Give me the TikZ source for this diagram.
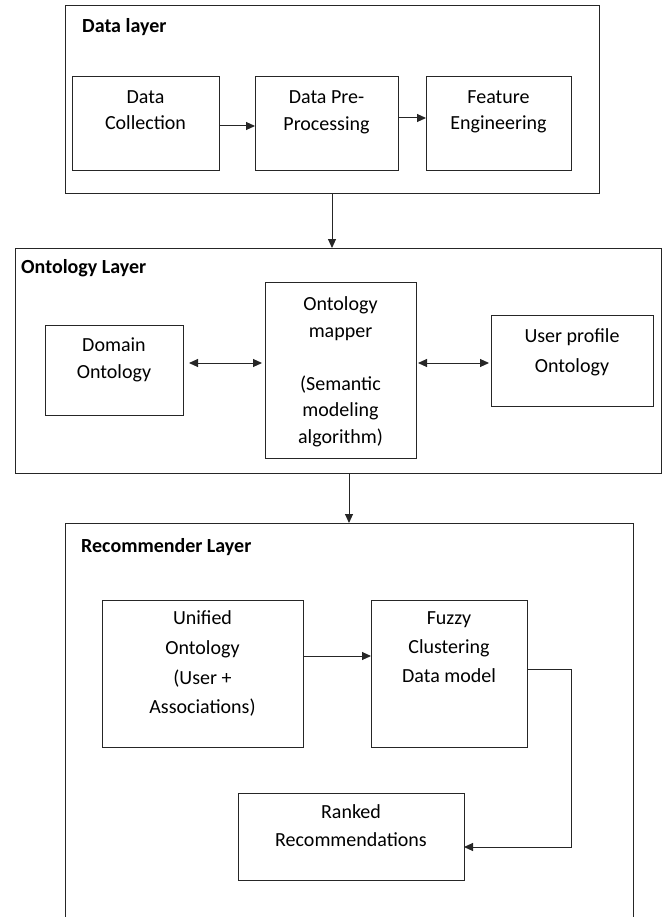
\documentclass[tikz,border=0pt]{standalone}
\usepackage{fontspec}
\setmainfont{Carlito}
\usetikzlibrary{arrows.meta,calc}
\newcommand{\fsz}[1]{\fontsize{20}{#1}\selectfont}
\newcommand{\tstrut}{\rule{0pt}{18pt}}
\begin{document}
\begin{tikzpicture}[x=1pt,y=-1pt,
  line color/.style={draw=black!85},
  box/.style={draw=black!85, line width=1pt, inner sep=0pt, outer sep=0pt},
  lab/.style={anchor=north, align=center, inner sep=0pt, text=black},
  ttl/.style={anchor=base west, inner sep=0pt, font=\fontsize{20}{24}\selectfont\bfseries},
  arr/.style={draw=black!85, line width=1pt, -{Triangle[length=9pt,width=8pt]}},
  darr/.style={draw=black!85, line width=1pt, {Triangle[length=9pt,width=8pt]}-{Triangle[length=9pt,width=8pt]}}
]
\useasboundingbox (0,0) rectangle (665,917);

% ---------- Data layer ----------
\node[box, minimum width=534pt, minimum height=188pt] (datal) at (332,100) {};
\node[ttl] (datat) at (82,33) {Data layer};
\node[box, minimum width=147pt, minimum height=94pt,
  label={[lab, yshift=-8.5pt, font=\fsz{26}]north:{\tstrut Data\\Collection}}] (dc) at (145.5,124) {};
\node[box, minimum width=143pt, minimum height=94pt,
  label={[lab, yshift=-8pt, font=\fsz{27}]north:{\tstrut Data Pre-\\Processing}}] (dpp) at (326.5,124) {};
\node[box, minimum width=145pt, minimum height=94pt,
  label={[lab, yshift=-8.5pt, font=\fsz{26}]north:{\tstrut Feature\\Engineering}}] (fe) at (498.5,124) {};

\draw[arr] (dc.east |- 0,126) -- (dpp.west |- 0,126);
\draw[arr] (dpp.east |- 0,118) -- (fe.west |- 0,118);

% ---------- Ontology layer ----------
\node[box, minimum width=646pt, minimum height=225pt] (ontol) at (338,360.5) {};
\node[ttl] (ontot) at (21,273) {Ontology Layer};
\node[box, minimum width=138pt, minimum height=90pt,
  label={[lab, yshift=-8.5pt, font=\fsz{27}]north:{\tstrut Domain\\Ontology}}] (dom) at (114,370) {};
\node[box, minimum width=151pt, minimum height=176pt,
  label={[lab, yshift=-10.5pt, font=\fsz{26.5}]north:{\tstrut Ontology\\mapper\\[26.5pt](Semantic\\modeling\\algorithm)}}] (map) at (340.5,370) {};
\node[box, minimum width=162pt, minimum height=91pt,
  label={[lab, yshift=-9.5pt, font=\fsz{30}]north:{\tstrut User profile\\Ontology}}] (usr) at (572,360.5) {};

\draw[darr, shorten <=6pt, shorten >=3pt] (dom.east |- 0,363) -- (map.west |- 0,363);
\draw[darr, shorten <=2pt, shorten >=2pt] (map.east |- 0,363) -- (usr.west |- 0,363);

% ---------- Recommender layer ----------
\node[minimum width=568pt, minimum height=394pt, inner sep=0pt, outer sep=0pt] (rec) at (349,720) {};
\draw[draw=black!85, line width=1pt] (rec.south west) |- (rec.north east) -- (rec.south east);
\node[ttl] (rect) at (81,552) {Recommender Layer};
\node[box, minimum width=201pt, minimum height=147pt,
  label={[lab, yshift=-6.5pt, font=\fsz{29.7}]north:{\tstrut Unified\\Ontology\\(User +\\Associations)}}] (uni) at (202.5,673.5) {};
\node[box, minimum width=156pt, minimum height=147pt,
  label={[lab, yshift=-6.5pt, font=\fsz{29}]north:{\tstrut Fuzzy\\Clustering\\Data model}}] (fuz) at (449,673.5) {};
\node[box, minimum width=226pt, minimum height=87pt,
  label={[lab, yshift=-7.5pt, font=\fsz{28}]north:{\tstrut Ranked\\Recommendations}}] (rank) at (351,836.5) {};

\coordinate (elb) at (571,669);
\draw[arr] (uni.east |- 0,656) -- (fuz.west |- 0,656);
\draw[arr] (fuz.east |- elb) -- (elb) |- (rank.east |- 0,847);

% ---------- layer connectors ----------
\draw[arr] (datal.south) -- (datal.south |- ontol.north);
\draw[arr] (ontol.south -| rec.north) -- (rec.north);
\end{tikzpicture}
\end{document}
